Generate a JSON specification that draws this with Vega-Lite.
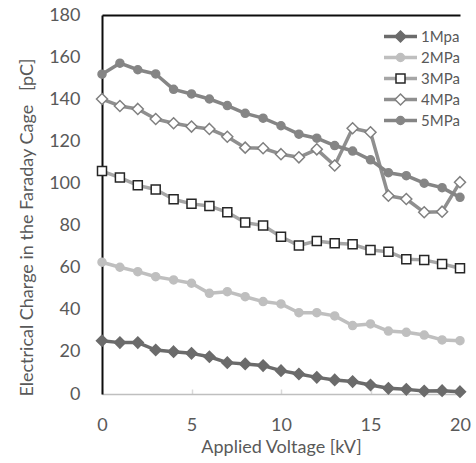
{
  "$schema": "https://vega.github.io/schema/vega-lite/v6.json",
  "width": 358,
  "height": 379,
  "autosize": "none",
  "padding": {"left": 102, "top": 15, "right": 16, "bottom": 69},
  "background": "white",
  "config": {
    "font": "Lato",
    "view": {"stroke": null},
    "axis": {"labelColor": "#595959", "titleColor": "#595959", "labelFont": "Lato", "titleFont": "Lato", "grid": false, "titleFontWeight": "normal"},
    "legend": {"labelFont": "Lato"}
  },
  "data": {
    "values": [
      {"s": "1Mpa", "v": 0, "q": 25.3}, {"s": "1Mpa", "v": 1, "q": 24.4}, {"s": "1Mpa", "v": 2, "q": 24.4}, {"s": "1Mpa", "v": 3, "q": 20.9}, {"s": "1Mpa", "v": 4, "q": 20.1}, {"s": "1Mpa", "v": 5, "q": 19.3}, {"s": "1Mpa", "v": 6, "q": 17.7}, {"s": "1Mpa", "v": 7, "q": 14.9}, {"s": "1Mpa", "v": 8, "q": 14.3}, {"s": "1Mpa", "v": 9, "q": 13.5}, {"s": "1Mpa", "v": 10, "q": 11.1}, {"s": "1Mpa", "v": 11, "q": 9.5}, {"s": "1Mpa", "v": 12, "q": 7.9}, {"s": "1Mpa", "v": 13, "q": 6.7}, {"s": "1Mpa", "v": 14, "q": 5.9}, {"s": "1Mpa", "v": 15, "q": 4.3}, {"s": "1Mpa", "v": 16, "q": 2.7}, {"s": "1Mpa", "v": 17, "q": 2.2}, {"s": "1Mpa", "v": 18, "q": 1.4}, {"s": "1Mpa", "v": 19, "q": 1.6}, {"s": "1Mpa", "v": 20, "q": 1.1},
      {"s": "2MPa", "v": 0, "q": 62.6}, {"s": "2MPa", "v": 1, "q": 60.2}, {"s": "2MPa", "v": 2, "q": 58.1}, {"s": "2MPa", "v": 3, "q": 55.7}, {"s": "2MPa", "v": 4, "q": 54.2}, {"s": "2MPa", "v": 5, "q": 52.6}, {"s": "2MPa", "v": 6, "q": 47.8}, {"s": "2MPa", "v": 7, "q": 48.6}, {"s": "2MPa", "v": 8, "q": 46.2}, {"s": "2MPa", "v": 9, "q": 43.9}, {"s": "2MPa", "v": 10, "q": 42.8}, {"s": "2MPa", "v": 11, "q": 38.6}, {"s": "2MPa", "v": 12, "q": 38.6}, {"s": "2MPa", "v": 13, "q": 37.1}, {"s": "2MPa", "v": 14, "q": 32.5}, {"s": "2MPa", "v": 15, "q": 33.3}, {"s": "2MPa", "v": 16, "q": 29.9}, {"s": "2MPa", "v": 17, "q": 29.3}, {"s": "2MPa", "v": 18, "q": 28.0}, {"s": "2MPa", "v": 19, "q": 25.7}, {"s": "2MPa", "v": 20, "q": 25.3},
      {"s": "3MPa", "v": 0, "q": 105.9}, {"s": "3MPa", "v": 1, "q": 102.8}, {"s": "3MPa", "v": 2, "q": 99.1}, {"s": "3MPa", "v": 3, "q": 97.1}, {"s": "3MPa", "v": 4, "q": 92.5}, {"s": "3MPa", "v": 5, "q": 90.3}, {"s": "3MPa", "v": 6, "q": 89.3}, {"s": "3MPa", "v": 7, "q": 86.3}, {"s": "3MPa", "v": 8, "q": 81.4}, {"s": "3MPa", "v": 9, "q": 80.0}, {"s": "3MPa", "v": 10, "q": 74.7}, {"s": "3MPa", "v": 11, "q": 70.5}, {"s": "3MPa", "v": 12, "q": 72.7}, {"s": "3MPa", "v": 13, "q": 71.6}, {"s": "3MPa", "v": 14, "q": 71.1}, {"s": "3MPa", "v": 15, "q": 68.4}, {"s": "3MPa", "v": 16, "q": 67.6}, {"s": "3MPa", "v": 17, "q": 64.0}, {"s": "3MPa", "v": 18, "q": 63.7}, {"s": "3MPa", "v": 19, "q": 61.8}, {"s": "3MPa", "v": 20, "q": 59.7},
      {"s": "4MPa", "v": 0, "q": 140.1}, {"s": "4MPa", "v": 1, "q": 136.8}, {"s": "4MPa", "v": 2, "q": 135.4}, {"s": "4MPa", "v": 3, "q": 130.6}, {"s": "4MPa", "v": 4, "q": 128.6}, {"s": "4MPa", "v": 5, "q": 127.0}, {"s": "4MPa", "v": 6, "q": 125.9}, {"s": "4MPa", "v": 7, "q": 122.2}, {"s": "4MPa", "v": 8, "q": 117.0}, {"s": "4MPa", "v": 9, "q": 116.7}, {"s": "4MPa", "v": 10, "q": 113.9}, {"s": "4MPa", "v": 11, "q": 112.4}, {"s": "4MPa", "v": 12, "q": 116.2}, {"s": "4MPa", "v": 13, "q": 108.5}, {"s": "4MPa", "v": 14, "q": 126.2}, {"s": "4MPa", "v": 15, "q": 124.3}, {"s": "4MPa", "v": 16, "q": 94.2}, {"s": "4MPa", "v": 17, "q": 92.6}, {"s": "4MPa", "v": 18, "q": 86.3}, {"s": "4MPa", "v": 19, "q": 86.6}, {"s": "4MPa", "v": 20, "q": 100.6},
      {"s": "5MPa", "v": 0, "q": 151.9}, {"s": "5MPa", "v": 1, "q": 157.1}, {"s": "5MPa", "v": 2, "q": 154.0}, {"s": "5MPa", "v": 3, "q": 152.0}, {"s": "5MPa", "v": 4, "q": 144.7}, {"s": "5MPa", "v": 5, "q": 142.5}, {"s": "5MPa", "v": 6, "q": 140.1}, {"s": "5MPa", "v": 7, "q": 137.0}, {"s": "5MPa", "v": 8, "q": 133.3}, {"s": "5MPa", "v": 9, "q": 131.0}, {"s": "5MPa", "v": 10, "q": 127.4}, {"s": "5MPa", "v": 11, "q": 123.4}, {"s": "5MPa", "v": 12, "q": 121.5}, {"s": "5MPa", "v": 13, "q": 118.0}, {"s": "5MPa", "v": 14, "q": 115.4}, {"s": "5MPa", "v": 15, "q": 111.2}, {"s": "5MPa", "v": 16, "q": 105.1}, {"s": "5MPa", "v": 17, "q": 103.7}, {"s": "5MPa", "v": 18, "q": 100.1}, {"s": "5MPa", "v": 19, "q": 98.0}, {"s": "5MPa", "v": 20, "q": 93.4}
    ]
  },
  "layer": [
    {
      "mark": {"type": "line", "strokeWidth": 3.5, "strokeJoin": "round", "strokeCap": "round"},
      "encoding": {
        "x": {"field": "v", "type": "quantitative", "scale": {"domain": [0, 20], "nice": false},
          "axis": {"orient": "bottom", "values": [0, 5, 10, 15, 20], "title": "Applied Voltage [kV]", "domainColor": "#bfbfbf", "domainWidth": 1.5, "tickColor": "#d9d9d9", "tickSize": -5, "tickWidth": 1.5, "labelFlush": false, "labelFontSize": 18, "titleFontSize": 18, "labelPadding": 27, "titlePadding": 4}},
        "y": {"field": "q", "type": "quantitative", "scale": {"domain": [0, 180], "nice": false},
          "axis": {"values": [0, 20, 40, 60, 80, 100, 120, 140, 160, 180], "title": "Electrical Charge in the Faraday Cage\u00a0\u00a0\u00a0[pC]", "ticks": false, "domainColor": "#0d0d0d", "domainWidth": 2, "labelFontSize": 18, "labelPadding": 22, "titleFontSize": 18, "titlePadding": 12, "titleY": 212}},
        "color": {"field": "s", "type": "nominal",
          "scale": {"domain": ["1Mpa", "2MPa", "3MPa", "4MPa", "5MPa"], "range": ["#6b6b6b", "#bfbfbf", "#a6a6a6", "#8f8f8f", "#858585"]},
          "legend": {"orient": "none", "legendX": 280, "legendY": 11, "title": null, "symbolType": "stroke", "symbolSize": 1089, "symbolStrokeWidth": 3.5, "labelFontSize": 15, "labelColor": "#595959", "labelOffset": 2, "padding": 0, "rowPadding": 0, "clipHeight": 21}}
      }
    },
    {
      "mark": {"type": "point", "filled": true, "strokeWidth": 1.5, "size": 100, "opacity": 1},
      "encoding": {
        "x": {"field": "v", "type": "quantitative", "axis": {"orient": "top", "labels": false, "ticks": false, "title": null, "domainColor": "#0d0d0d", "domainWidth": 2}},
        "y": {"field": "q", "type": "quantitative"},
        "shape": {"field": "s", "type": "nominal",
          "scale": {"range": ["M0,-1.1L1.1,0L0,1.1L-1.1,0Z", "M-0.8,0A0.8,0.8 0 1,0 0.8,0A0.8,0.8 0 1,0 -0.8,0Z", "M-0.9,-0.9H0.9V0.9H-0.9Z", "M0,-1.1L1.1,0L0,1.1L-1.1,0Z", "M-0.8,0A0.8,0.8 0 1,0 0.8,0A0.8,0.8 0 1,0 -0.8,0Z"]},
          "legend": {"orient": "none", "legendX": 291, "legendY": 11, "title": null, "symbolSize": 100, "symbolStrokeWidth": 1.5, "labelFontSize": 15, "labelExpr": "''", "padding": 0, "rowPadding": 0, "clipHeight": 21}},
        "fill": {"field": "s", "type": "nominal",
          "scale": {"range": ["#6b6b6b", "#bfbfbf", "#ffffff", "#ffffff", "#858585"]},
          "legend": {"orient": "none", "legendX": 291, "legendY": 11, "title": null, "symbolSize": 100, "symbolStrokeWidth": 1.5, "labelFontSize": 15, "labelExpr": "''", "padding": 0, "rowPadding": 0, "clipHeight": 21}},
        "stroke": {"field": "s", "type": "nominal",
          "scale": {"range": ["#6b6b6b", "#bfbfbf", "#262626", "#808080", "#858585"]},
          "legend": {"orient": "none", "legendX": 291, "legendY": 11, "title": null, "symbolSize": 100, "symbolStrokeWidth": 1.5, "labelFontSize": 15, "labelExpr": "''", "padding": 0, "rowPadding": 0, "clipHeight": 21}}
      }
    }
  ],
  "resolve": {"axis": {"x": "independent"}}
}
